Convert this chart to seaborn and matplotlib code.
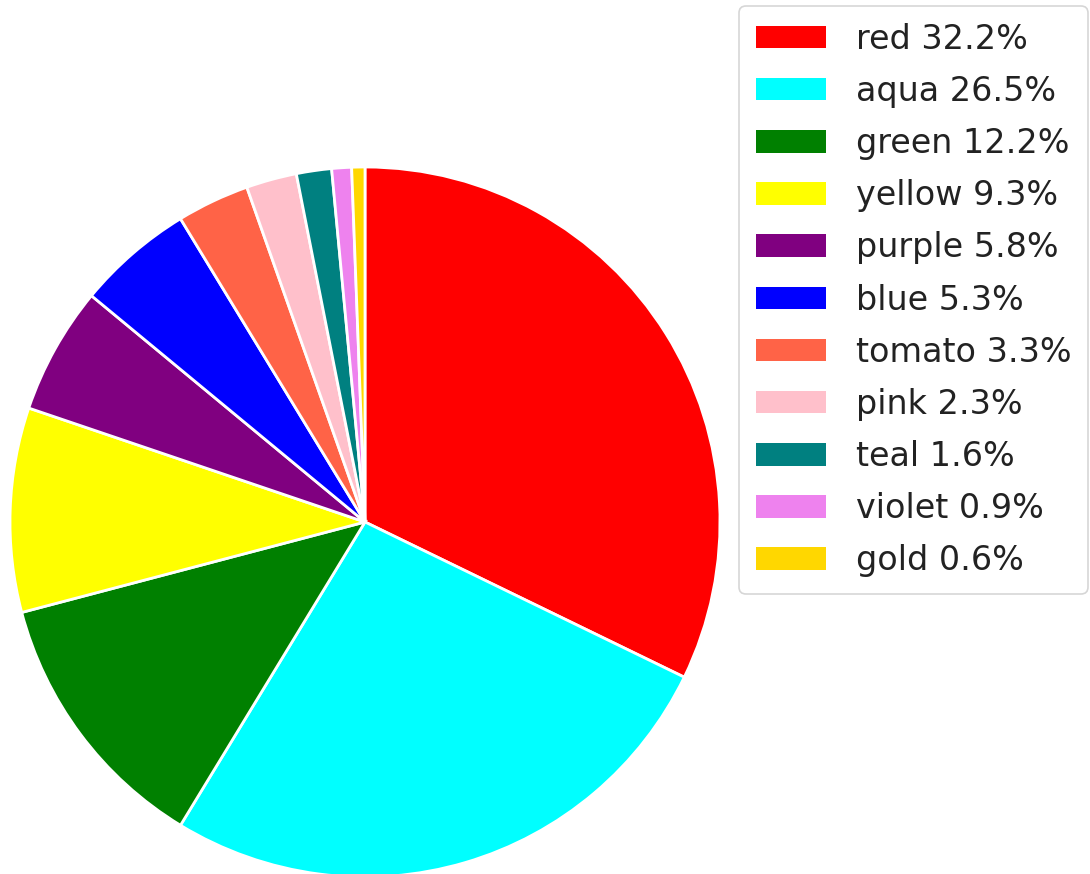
import matplotlib
matplotlib.use("Agg")
import matplotlib.pyplot as plt
import seaborn as sns

# Slice names, colours and shares (percent)
names = ["red", "aqua", "green", "yellow", "purple", "blue",
         "tomato", "pink", "teal", "violet", "gold"]
colors = ["red", "aqua", "green", "yellow", "purple", "blue",
          "tomato", "pink", "teal", "violet", "gold"]
shares = [32.2, 26.5, 12.2, 9.3, 5.8, 5.3, 3.3, 2.3, 1.6, 0.9, 0.6]

sns.set_theme(style="white")
plt.rcParams["font.family"] = ["DejaVu Sans"]

fig = plt.figure(figsize=(10.9, 8.74), dpi=100)
ax = fig.add_axes([10 / 1090, -3 / 874, 710 / 1090, 710 / 874])

wedges, _ = ax.pie(
    shares,
    colors=colors,
    startangle=90,
    counterclock=False,
    radius=1.0,
    wedgeprops=dict(edgecolor="white", linewidth=2),
)
ax.set_xlim(-1, 1)
ax.set_ylim(-1, 1)
ax.set_aspect("equal")
ax.axis("off")

labels = [f"{n} {s:.1f}%" for n, s in zip(names, shares)]
leg = fig.legend(
    wedges,
    labels,
    loc="upper right",
    bbox_to_anchor=(1088 / 1090, 1 - 6 / 874),
    borderaxespad=0,
    fontsize=24,
    handlelength=2.1,
    handleheight=0.66,
    handletextpad=0.9,
    labelspacing=0.575,
    borderpad=0.5,
    frameon=True,
    fancybox=True,
)
leg.get_frame().set_edgecolor("#cccccc")
leg.get_frame().set_linewidth(1.2)
for h in leg.legend_handles:
    h.set_edgecolor("none")
for t in leg.get_texts():
    t.set_color("#222222")

fig.savefig("out.png", dpi=100)
